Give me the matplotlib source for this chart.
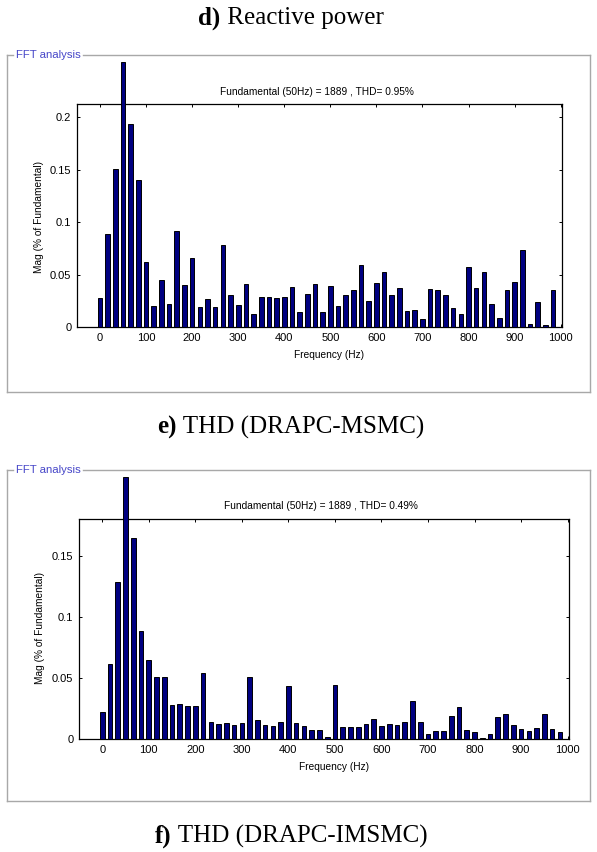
import numpy as np
import matplotlib
matplotlib.use("Agg")
import matplotlib.pyplot as plt
from matplotlib.lines import Line2D

W, H = 597, 852

# ---- data ----
freqs = [round(i * 50 / 3, 2) for i in range(60)]  # 0, 16.67, ..., 983.33 Hz

mag_msmc = [0.0276, 0.0884, 0.1506, 0.2523, 0.1933, 0.140, 0.0618, 0.020, 0.0444, 0.0219,
            0.0919, 0.0396, 0.0656, 0.0193, 0.0263, 0.0193, 0.0777, 0.0307, 0.0209, 0.0406,
            0.012, 0.0282, 0.0282, 0.0273, 0.0282, 0.0377, 0.0139, 0.0316, 0.041, 0.0139,
            0.0386, 0.020, 0.0304, 0.035, 0.0589, 0.0244, 0.042, 0.052, 0.0304, 0.037,
            0.0155, 0.016, 0.0076, 0.036, 0.035, 0.0304, 0.0177, 0.0127, 0.057, 0.0373,
            0.0528, 0.0215, 0.0082, 0.0348, 0.0427, 0.0731, 0.0028, 0.0234, 0.0022, 0.0348]

mag_imsmc = [0.0221, 0.0615, 0.1287, 0.2148, 0.1645, 0.0885, 0.065, 0.0505, 0.0505, 0.0281,
             0.029, 0.0273, 0.0273, 0.0538, 0.0139, 0.0123, 0.0131, 0.0117, 0.0131, 0.0505,
             0.0153, 0.0117, 0.0109, 0.0139, 0.0432, 0.013, 0.0103, 0.0076, 0.0076, 0.0019,
             0.0446, 0.0095, 0.0095, 0.0095, 0.0122, 0.0163, 0.0109, 0.0122, 0.0117, 0.0139,
             0.031, 0.0139, 0.0038, 0.0065, 0.0065, 0.0185, 0.0264, 0.0071, 0.0057, 0.0008,
             0.0041, 0.0177, 0.0207, 0.0117, 0.0079, 0.0065, 0.0087, 0.0207, 0.0079, 0.0057]

xticks = [0, 100, 200, 300, 400, 500, 600, 700, 800, 900, 1000]
yticks_top = [0, 0.05, 0.1, 0.15, 0.2]
yticks_bot = [0, 0.05, 0.1, 0.15]

captions = [("d)", " Reactive power"), ("e)", " THD (DRAPC-MSMC)"), ("f)", " THD (DRAPC-IMSMC)")]
annot_top = "Fundamental (50Hz) = 1889 , THD= 0.95%"
annot_bot = "Fundamental (50Hz) = 1889 , THD= 0.49%"

fig = plt.figure(figsize=(W / 100, H / 100), dpi=100)
fig.patch.set_facecolor("white")


def fx(x):
    return x / W


def fy(y):
    return 1 - y / H


def line(x0, y0, x1, y1, color="#a8a8a8", lw=1.0):
    fig.add_artist(Line2D([fx(x0), fx(x1)], [fy(y0), fy(y1)], color=color, lw=lw,
                          transform=fig.transFigure))


def frame(top, bottom, left=7, right=590):
    line(left, top, left, bottom)
    line(left, bottom, right, bottom)
    line(right, top, right, bottom)
    line(left, top, 13, top)
    line(83, top, right, top)
    fig.text(fx(16), fy(top), "FFT analysis", color="#4646c8", fontsize=8.2,
             family="Liberation Sans", ha="left", va="center")


renderer = fig.canvas.get_renderer()


def caption(y, parts, cx=291, size=18):
    t1 = fig.text(0, fy(y), parts[0], family="Liberation Serif", weight="bold",
                  fontsize=size, ha="left", va="center")
    t2 = fig.text(0, fy(y), parts[1], family="Liberation Serif",
                  fontsize=size, ha="left", va="center")
    w1 = t1.get_window_extent(renderer).width
    w2 = t2.get_window_extent(renderer).width
    x0 = cx - (w1 + w2) / 2
    t1.set_x(fx(x0))
    t2.set_x(fx(x0 + w1))


def panel(rect_px, mags, yticks, ylim, annot, annot_xy, ylab_xy, xlab_y):
    l, t, r, b = rect_px
    ax = fig.add_axes([fx(l), fy(b), (r - l) / W, (b - t) / H])
    ax.bar(freqs, mags, width=10, color="#000080", edgecolor="black", linewidth=0.7,
           clip_on=False, zorder=3)
    ax.set_xlim(-50, 1003)
    ax.set_ylim(*ylim)
    ax.set_xticks(xticks)
    ax.set_yticks(yticks)
    ax.set_xticklabels([str(v) for v in xticks])
    ax.set_yticklabels(["0" if v == 0 else f"{v:g}" for v in yticks])
    ax.tick_params(direction="in", top=True, right=True, length=2.5, width=0.7,
                   labelsize=8, pad=4)
    for lab in ax.get_xticklabels() + ax.get_yticklabels():
        lab.set_family("Liberation Sans")
    for s in ax.spines.values():
        s.set_linewidth(0.9)
    fig.text(fx(annot_xy[0]), fy(annot_xy[1]), annot, fontsize=7.3,
             family="Liberation Sans", ha="center", va="center")
    fig.text(fx(ylab_xy[0]), fy(ylab_xy[1]), "Mag (% of Fundamental)", fontsize=7.3,
             family="Liberation Sans", ha="center", va="center", rotation=90)
    fig.text(fx((l + r) / 2 + 10), fy(xlab_y), "Frequency (Hz)", fontsize=7.3,
             family="Liberation Sans", ha="center", va="center")
    return ax


caption(18, captions[0])
frame(55, 392)
panel((77, 104, 562, 327), mag_msmc, yticks_top, (0, 0.2124), annot_top,
      (317, 92), (39, 217), 355)

caption(427, captions[1])
frame(470, 801)
panel((79, 519, 569, 739), mag_imsmc, yticks_bot, (0, 0.1803), annot_bot,
      (321, 506), (40, 628), 767)

caption(836, captions[2])

fig.savefig("out.png", dpi=100, facecolor="white")
